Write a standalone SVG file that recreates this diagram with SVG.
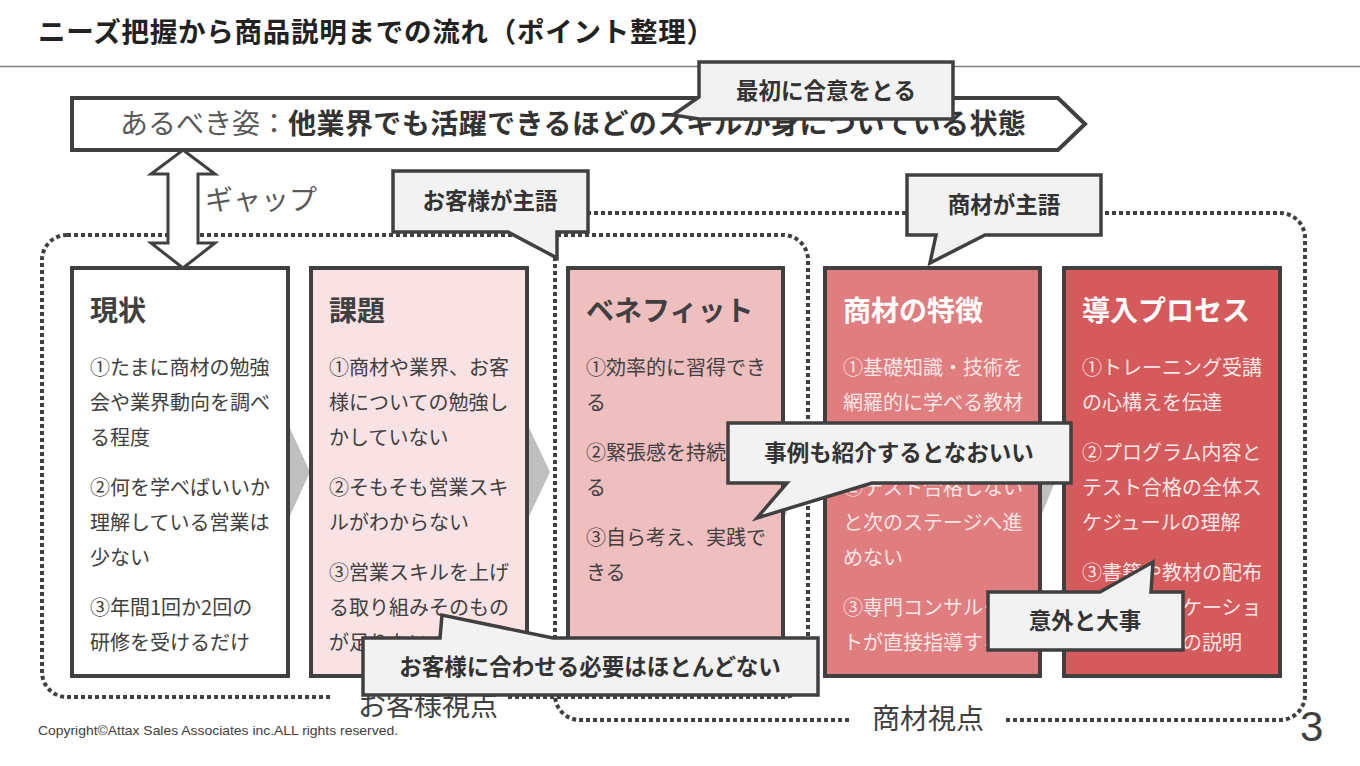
<svg xmlns="http://www.w3.org/2000/svg" width="1360" height="766" viewBox="0 0 1360 766">
<defs>
<style>
.jp{font-family:"Noto Sans CJK JP","Noto Sans CJK SC",sans-serif;}
.box{stroke:#404040;stroke-width:4;}
.ttl{font-size:28px;font-weight:700;}
.body{font-size:20px;}
.dk{fill:#404040;}
.lt{fill:#fbe6e6;}
.call{fill:#f2f2f2;stroke:#404040;stroke-width:3.5;stroke-linejoin:miter;}
.ctxt{font-size:22.5px;font-weight:700;fill:#333333;text-anchor:middle;}
.dot{fill:none;stroke:#404040;stroke-width:4;stroke-dasharray:4 3;}
.chev{fill:#bfbfbf;}
</style>
</defs>
<rect width="1360" height="766" fill="#ffffff"/>

<g id="header">
<text class="jp" x="38" y="42" font-size="27.5" font-weight="700" fill="#222222" textLength="676" lengthAdjust="spacing">ニーズ把握から商品説明までの流れ（ポイント整理）</text>
<line x1="0" y1="66.5" x2="1360" y2="66.5" stroke="#808080" stroke-width="1.5"/>
</g>

<g id="groups">
<rect class="dot" x="42" y="235" width="766" height="462" rx="25"/>
<rect class="dot" x="555" y="213" width="750" height="507" rx="25"/>
<rect x="330" y="688" width="176" height="30" fill="#ffffff"/>
<rect x="852" y="705" width="154" height="30" fill="#ffffff"/>
<text class="jp dk" x="428" y="716" font-size="28" text-anchor="middle">お客様視点</text>
<text class="jp dk" x="928" y="729" font-size="28" text-anchor="middle">商材視点</text>
</g>

<g id="goal">
<polygon class="box" points="72,98 1058,98 1085,124 1058,150 72,150" fill="#ffffff"/>
<text class="jp" x="120" y="134" font-size="28"><tspan fill="#595959">あるべき姿：</tspan><tspan fill="#333333" font-weight="700" letter-spacing="0.45">他業界でも活躍できるほどのスキルが身についている状態</tspan></text>
</g>

<g id="connectors">
<polygon class="chev" points="283,413 310,472 283,531"/>
<polygon class="chev" points="522,413 550,472 522,531"/>
<polygon class="chev" points="778,413 806,472 778,531"/>
<polygon class="chev" points="1035,413 1059,472 1035,531"/>
<polygon points="183,150 215,174 198,174 198,243 215,243 183,268 151,243 168,243 168,174 151,174" fill="#ffffff" stroke="#404040" stroke-width="3" stroke-linejoin="miter"/>
<text class="jp" x="205" y="210" font-size="28" fill="#595959">ギャップ</text>
</g>

<g id="node-genjo">
<rect class="box" x="72" y="268" width="216" height="408" fill="#ffffff"/>
<text class="jp ttl dk" x="90" y="321">現状</text>
<text class="jp body dk">
<tspan x="90" y="375">①たまに商材の勉強</tspan>
<tspan x="90" y="410">会や業界動向を調べ</tspan>
<tspan x="90" y="445">る程度</tspan>
<tspan x="90" y="495">②何を学べばいいか</tspan>
<tspan x="90" y="530">理解している営業は</tspan>
<tspan x="90" y="565">少ない</tspan>
<tspan x="90" y="615">③年間1回か2回の</tspan>
<tspan x="90" y="650">研修を受けるだけ</tspan>
</text>
</g>

<g id="node-kadai">
<rect class="box" x="311" y="268" width="216" height="408" fill="#f9e2e3"/>
<text class="jp ttl dk" x="329" y="321">課題</text>
<text class="jp body dk">
<tspan x="329" y="375">①商材や業界、お客</tspan>
<tspan x="329" y="410">様についての勉強し</tspan>
<tspan x="329" y="445">かしていない</tspan>
<tspan x="329" y="495">②そもそも営業スキ</tspan>
<tspan x="329" y="530">ルがわからない</tspan>
<tspan x="329" y="580">③営業スキルを上げ</tspan>
<tspan x="329" y="615">る取り組みそのもの</tspan>
<tspan x="329" y="650">が足りない</tspan>
</text>
</g>

<g id="node-benefit">
<rect class="box" x="568" y="268" width="215" height="408" fill="#efbfc0"/>
<text class="jp ttl dk" x="586" y="321">ベネフィット</text>
<text class="jp body dk">
<tspan x="586" y="375">①効率的に習得でき</tspan>
<tspan x="586" y="410">る</tspan>
<tspan x="586" y="460">②緊張感を持続でき</tspan>
<tspan x="586" y="495">る</tspan>
<tspan x="586" y="545">③自ら考え、実践で</tspan>
<tspan x="586" y="580">きる</tspan>
</text>
</g>

<g id="node-tokucho">
<rect class="box" x="825" y="268" width="215" height="408" fill="#e07d7e"/>
<text class="jp ttl" x="843" y="321" fill="#ffffff">商材の特徴</text>
<text class="jp body lt">
<tspan x="843" y="375">①基礎知識・技術を</tspan>
<tspan x="843" y="410">網羅的に学べる教材</tspan>
<tspan x="843" y="495">②テスト合格しない</tspan>
<tspan x="843" y="530">と次のステージへ進</tspan>
<tspan x="843" y="565">めない</tspan>
<tspan x="843" y="615">③専門コンサルタン</tspan>
<tspan x="843" y="650">トが直接指導する</tspan>
</text>
</g>

<g id="node-process">
<rect class="box" x="1064" y="268" width="216" height="408" fill="#d55a5c"/>
<text class="jp ttl" x="1082" y="321" fill="#ffffff">導入プロセス</text>
<text class="jp body lt">
<tspan x="1082" y="375">①トレーニング受講</tspan>
<tspan x="1082" y="410">の心構えを伝達</tspan>
<tspan x="1082" y="460">②プログラム内容と</tspan>
<tspan x="1082" y="495">テスト合格の全体ス</tspan>
<tspan x="1082" y="530">ケジュールの理解</tspan>
<tspan x="1082" y="580">③書籍や教材の配布</tspan>
<tspan x="1182" y="615">ケーショ</tspan>
<tspan x="1182" y="650">の説明</tspan>
</text>
</g>

<g id="callout-goui">
<path class="call" d="M699,62 H953 V119 H699 L673,115 L699,97 Z"/>
<text class="jp ctxt" x="826" y="99">最初に合意をとる</text>
</g>
<g id="callout-kyaku">
<path class="call" d="M393,171 H588 V232 H557 L557,258 L508,232 H393 Z"/>
<text class="jp ctxt" x="490" y="209">お客様が主語</text>
</g>
<g id="callout-shozai">
<path class="call" d="M907,175 H1101 V235 H985 L930,263 L936,235 H907 Z"/>
<text class="jp ctxt" x="1004" y="213">商材が主語</text>
</g>
<g id="callout-jirei">
<path class="call" d="M728,423 H1071 V483 H872 L757,518 L787,483 H728 Z"/>
<text class="jp ctxt" x="899" y="461">事例も紹介するとなおいい</text>
</g>
<g id="callout-igai">
<path class="call" d="M988,592 H1100 L1153,562 L1151,592 H1183 V650 H988 Z"/>
<text class="jp ctxt" x="1085" y="629">意外と大事</text>
</g>
<g id="callout-awaseru">
<path class="call" d="M363,638 H440 L442,615 L553,638 H818 V695 H363 Z"/>
<text class="jp ctxt" x="590" y="675">お客様に合わせる必要はほとんどない</text>
</g>

<g id="footer">
<text x="38" y="735" font-family="Liberation Sans, sans-serif" font-size="13" fill="#404040" textLength="360" lengthAdjust="spacingAndGlyphs">Copyright©Attax Sales Associates inc.ALL rights reserved.</text>
<text x="1300" y="741" font-family="Liberation Sans, sans-serif" font-size="42" fill="#404040">3</text>
</g>
</svg>
